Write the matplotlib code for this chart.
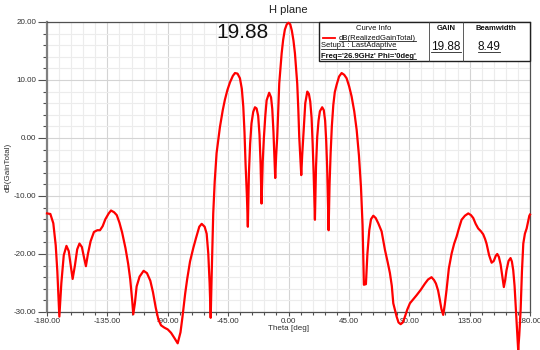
import matplotlib
matplotlib.use("Agg")
import matplotlib.pyplot as plt
from matplotlib.ticker import MultipleLocator, FormatStrFormatter
from matplotlib.lines import Line2D
from matplotlib.patches import Rectangle

plt.rcParams['font.family'] = ['Liberation Sans', 'DejaVu Sans']

# H plane pattern, dB(RealizedGainTotal) vs theta
theta = [
    -180, -177.5, -175.3, -173.5, -172.3, -170.8, -169.3, -167.5, -165.5, -163.8,
    -162.3, -160.9, -159.2, -157.5, -155.8, -154, -152.5, -151, -149.5, -147.5,
    -145, -142.5, -140.5, -138.5, -136.5, -134, -132.3, -130, -128, -126,
    -124, -121.5, -119.5, -118, -116.5, -115.7, -114.5, -113.2, -111, -108,
    -105.5, -103, -101, -99, -97, -95, -92.5, -90, -87.5, -85,
    -82.6, -80.5, -79, -77, -75.5, -73.4, -71, -69, -66.5, -64.7,
    -62.5, -61, -59.8, -58.8, -58.0, -57.3, -56.1, -55, -53.6, -51.1,
    -49, -47.4, -45.5, -43.6, -41.5, -39.9, -38, -36.2, -34.8, -33.7,
    -32.8, -32.0, -31.0, -30.3, -29.5, -28.6, -27.6, -26.3, -25, -23.8,
    -22.6, -21.6, -20.8, -20.1, -19.2, -18.3, -17.3, -16.3, -14.4, -13,
    -12.1, -11.2, -10.5, -9.9, -9.2, -8.4, -7.6, -6.9, -5.1, -4,
    -2.7, -1.3, 0, 1.3, 2.5, 3.7, 4.8, 6.5, 7.3, 8.0,
    8.8, 9.5, 10.2, 11.0, 11.8, 12.5, 14.0, 15.2, 16.2, 17.2,
    18.0, 18.8, 19.7, 20.5, 21.4, 22.4, 23.4, 25.1, 26.3, 27.3,
    28.1, 28.8, 29.3, 29.9, 30.6, 31.4, 32.3, 33.4, 34.5, 35.9,
    37.7, 39.6, 41.5, 43.3, 45.2, 47.0, 49.0, 50.8, 52.5, 54.0,
    55.2, 56.2, 57.7, 58.8, 60.2, 61.5, 63.2, 65, 66.9, 69.4,
    71.9, 74, 75.6, 77, 78.1, 80.6, 82, 83.6, 85.2, 86.8,
    88.5, 90.5, 93, 95.5, 98.5, 101.7, 104, 106.6, 108.5, 109.9,
    111.5, 112.8, 114, 115.3, 116.5, 117.8, 119.5, 121.6, 123.5, 125.3,
    127, 129.0, 131.5, 134.0, 136, 137.7, 139.5, 141.4, 143.5, 145.1,
    146.5, 147.6, 149.5, 151.4, 153, 154.5, 155.6, 156.8, 158.1, 159.3,
    160.5, 161.5, 162.5, 164, 165.5, 166.5, 167.5, 168.5, 169.5, 170.5,
    171.2, 172, 173.0, 174, 175.0, 176.2, 177.5, 179.5, 180,
]
gain_db = [
    -13.0, -13.1, -14.7, -18.5, -23, -30.8, -25, -20.2, -18.6, -19.5,
    -22, -24.3, -22.0, -19.2, -18.2, -18.8, -20.5, -22.1, -20.0, -17.8,
    -16.2, -15.9, -15.9, -15.2, -14.0, -13.0, -12.5, -12.8, -13.3, -14.6,
    -16.3, -19.0, -21.7, -24.3, -28.0, -30.4, -28.5, -25.6, -23.9, -22.9,
    -23.3, -24.6, -26.6, -29.2, -31.3, -32.3, -32.7, -33.0, -33.6, -34.5,
    -35.4, -33.5, -30.8, -26.8, -24.3, -21.3, -19.0, -17.3, -15.3, -14.8,
    -15.3, -16.5, -19.9, -25, -31.0, -24, -13.0, -7.5, -2.6, 1.9,
    4.8, 6.6, 8.3, 9.6, 10.7, 11.2, 11.1, 10.3, 8.5, 5.4,
    1.0, -4.5, -10, -15.3, -6, -1, 2.5, 4.5, 5.3, 5.1,
    3.8, 0.5, -4.5, -11.3, -4, 0.2, 3.8, 6.5, 7.8, 7.0,
    5.0, 1, -3, -6.9, -3, 0.2, 5, 9.4, 14.6, 16.9,
    18.7, 19.6, 19.88, 19.6, 18.5, 16.8, 14.6, 9.4, 5, 0.2,
    -3.5, -6.4, -3, 0.2, 3.5, 6.0, 8.0, 7.6, 6.3, 3.5,
    -1, -6.5, -14.1, -5, 0.2, 3.0, 4.6, 5.3, 4.8, 3.0,
    -0.5, -5, -10, -15.9, -8, -2.6, 2.0, 5.7, 7.9, 9.2,
    10.6, 11.2, 10.9, 10.3, 8.9, 7.2, 4.6, 1.4, -3, -8.4,
    -15, -25.3, -25.2, -20, -15.9, -14.0, -13.4, -13.8, -14.7, -16.1,
    -19.3, -21.5, -23.3, -25.5, -28.5, -30.8, -31.8, -32.1, -31.8, -30.8,
    -29.6, -28.5, -27.8, -27.1, -26.2, -25.1, -24.4, -24.0, -24.5, -25.1,
    -26.3, -27.9, -29.5, -30.5, -28.7, -26.2, -22.5, -19.9, -18.2, -17.0,
    -15.6, -14.1, -13.4, -13.0, -13.3, -13.8, -14.8, -15.6, -16.1, -16.6,
    -17.4, -18.2, -20.2, -21.5, -21.2, -20.3, -20.0, -20.5, -21.8, -23.8,
    -25.7, -24.5, -22.8, -21.2, -20.7, -21.3, -22.8, -25.5, -29.7, -34,
    -36.6, -34, -29.7, -23, -18.2, -16.5, -15.6, -13.4, -13.2,
]

curve_name = "dB(RealizedGainTotal)"
setup_name = "Setup1 : LastAdaptive"
sweep_info = "Freq='26.9GHz' Phi='0deg'"
peak_gain = "19.88"
beamwidth = "8.49"

fig = plt.figure(figsize=(5.4, 3.5), dpi=100)
ax = fig.add_axes([47 / 540, 1 - 312 / 350, 483 / 540, 290 / 350])

ax.plot(theta, gain_db, color='red', lw=1.6, clip_on=False,
        solid_joinstyle='round', zorder=3)

ax.set_xlim(-180, 180)
ax.set_ylim(-30, 20)
ax.xaxis.set_major_locator(MultipleLocator(45))
ax.xaxis.set_minor_locator(MultipleLocator(9))
ax.yaxis.set_major_locator(MultipleLocator(10))
ax.yaxis.set_minor_locator(MultipleLocator(2))
ax.xaxis.set_major_formatter(FormatStrFormatter('%.2f'))
ax.yaxis.set_major_formatter(FormatStrFormatter('%.2f'))

ax.grid(True, which='major', color='#d4d4d4', lw=0.8)
ax.grid(True, which='minor', color='#ececec', lw=0.8)
ax.set_axisbelow(True)

ax.tick_params(axis='y', which='major', length=6.5, width=0.8, color='#505050',
               labelsize=5.8, labelcolor='#303030', pad=1)
ax.tick_params(axis='y', which='minor', length=3, width=0.8, color='#505050')
ax.tick_params(axis='x', which='major', length=3, width=0.8, color='#505050',
               labelsize=5.8, labelcolor='#303030', pad=1)
ax.tick_params(axis='x', which='minor', length=2.5, width=0.8, color='#505050')

for side in ['top', 'right', 'bottom']:
    ax.spines[side].set_color('#505050')
    ax.spines[side].set_linewidth(0.9)
ax.spines['left'].set_color('#808080')
ax.spines['left'].set_linewidth(1.6)

ax.set_xlabel('Theta [deg]', fontsize=5.8, color='#303030', labelpad=0.5)
fig.text(8 / 540, 1 - 167 / 350, 'dB(GainTotal)', rotation=90, fontsize=5.8,
         color='#303030', ha='center', va='center')

fig.text(288 / 540, 1 - 10 / 350, 'H plane', fontsize=8, color='#202020',
         ha='center', va='center')
fig.text(243 / 540, 1 - 33 / 350, peak_gain, fontsize=15, color='#101010',
         ha='center', va='center')

# curve info table
def fx(px):
    return px / 540

def fy(py):
    return 1 - py / 350

box = Rectangle((fx(319), fy(61)), fx(530) - fx(319), fy(22) - fy(61),
                transform=fig.transFigure, facecolor='white',
                edgecolor='#202020', lw=1.0, zorder=5)
fig.patches.append(box)
for xc in [429, 463]:
    fig.lines.append(Line2D([fx(xc), fx(xc)], [fy(22), fy(61)],
                            transform=fig.transFigure, color='#404040',
                            lw=0.6, zorder=6))

fig.lines.append(Line2D([fx(323), fx(335)], [fy(38), fy(38)],
                        transform=fig.transFigure, color='red', lw=1.3, zorder=6))

txt_kw = dict(zorder=7, color='#101010')
underlined = []
fig.text(fx(374), fy(29), 'Curve Info', fontsize=5.5, ha='center', va='center', **txt_kw)
fig.text(fx(446), fy(29), 'GAIN', fontsize=5.5, ha='center', va='center',
         weight='bold', **txt_kw)
fig.text(fx(496), fy(29), 'Beamwidth', fontsize=5.5, ha='center', va='center',
         weight='bold', **txt_kw)
underlined.append(fig.text(fx(339), fy(38), curve_name, fontsize=5.5,
                           ha='left', va='center', **txt_kw))
underlined.append(fig.text(fx(321), fy(45.5), setup_name, fontsize=5.5,
                           ha='left', va='center', **txt_kw))
underlined.append(fig.text(fx(321), fy(56), sweep_info, fontsize=5.5,
                           ha='left', va='center', weight='bold', **txt_kw))
underlined.append(fig.text(fx(446), fy(46.5), peak_gain, fontsize=8.5,
                           ha='center', va='center', **txt_kw))
underlined.append(fig.text(fx(489), fy(46.5), beamwidth, fontsize=8.5,
                           ha='center', va='center', **txt_kw))

fig.canvas.draw()
renderer = fig.canvas.get_renderer()
inv = fig.transFigure.inverted()
for t in underlined:
    bb = t.get_window_extent(renderer)
    (x0, y0), (x1, _) = inv.transform([[bb.x0, bb.y0], [bb.x1, bb.y1]])
    fig.lines.append(Line2D([x0, x1], [y0 + 0.3 / 350, y0 + 0.3 / 350],
                            transform=fig.transFigure, color='#202020',
                            lw=0.6, zorder=7))

fig.savefig('out.png', dpi=100)
